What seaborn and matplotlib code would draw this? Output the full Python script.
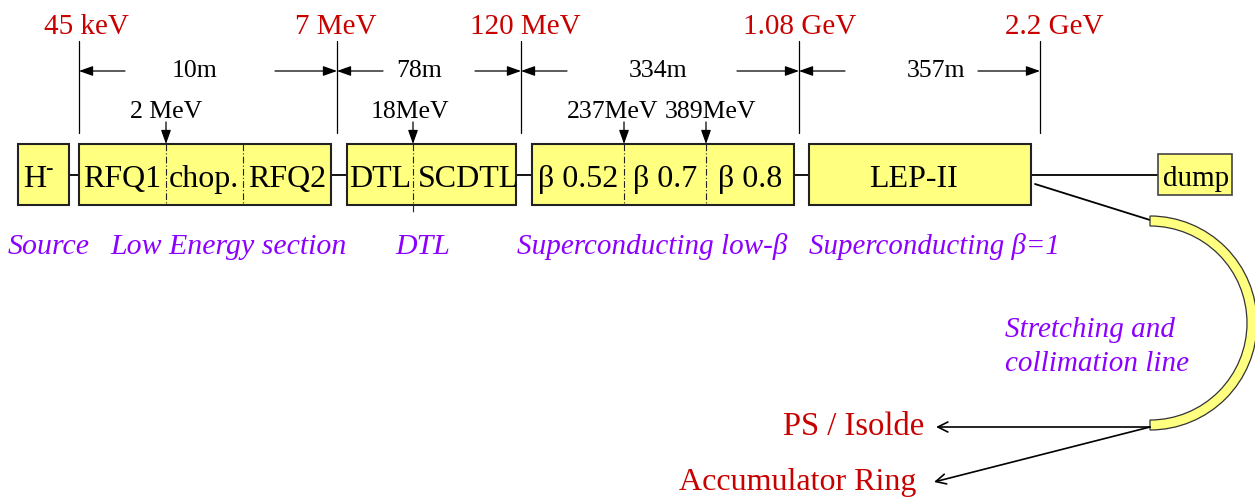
"""
Linac layout sketch: source -> low energy section -> DTL -> SC low-beta -> SC beta=1
"""
import matplotlib
matplotlib.use('Agg')
import matplotlib.pyplot as plt
from matplotlib.patches import Rectangle, Wedge
import seaborn as sns

# ---- data (pixel layout of the original sketch) ----
energy_labels = ['45 keV', '7 MeV', '120 MeV', '1.08 GeV', '2.2 GeV']
energy_x = [79, 337, 521, 799, 1040]
energy_text_x = [86, 336, 525, 800, 1054]

length_labels = ['10m', '78m', '334m', '357m']
length_text_x = [195, 419, 658, 936]
length_arrow_left = [125, 383, 567, 845]
length_arrow_right = [275, 475, 737, 978]

tap_labels = ['2 MeV', '18MeV', '237MeV', '389MeV']
tap_x = [166, 413, 624, 706]
tap_text_x = [166, 410, 613, 710]

# box extents (x0, x1)
box_x0 = [18, 79, 347, 532, 809]
box_x1 = [69, 331, 516, 794, 1031]
box_dividers = [[], [166, 243], [413], [624, 706], []]

cell_labels = ['H', 'RFQ1', 'chop.', 'RFQ2', 'DTL', 'SCDTL',
               'β 0.52', 'β 0.7', 'β 0.8', 'LEP-II']
cell_x = [35, 122, 204, 287, 380, 469, 578, 665, 750, 914]

section_labels = ['Source', 'Low Energy section', 'DTL',
                  'Superconducting low-β', 'Superconducting β=1']
section_x = [8, 110, 395, 517, 809]
section_size = [21.5, 21.5, 21.5, 21, 20.8]

RED = '#c80000'
PURPLE = '#8c00ff'
YELLOW = '#ffff80'
BOX_Y0, BOX_Y1 = 144, 205
BEAM_Y = 175

sns.set_theme(style='white')
plt.rcParams['font.family'] = ['Liberation Serif', 'DejaVu Serif']
plt.rcParams['text.color'] = 'black'

fig = plt.figure(figsize=(12.55, 4.97), dpi=100)
ax = fig.add_axes([0, 0, 1, 1])
ax.set_xlim(0, 1255)
ax.set_ylim(497, 0)
ax.axis('off')

# beam line between boxes and to dump
beam_pts = [69, 79, 331, 347, 516, 532, 794, 809, 1031, 1158]
for a, b in zip(beam_pts[0::2], beam_pts[1::2]):
    ax.plot([a, b], [BEAM_Y, BEAM_Y], color='black', lw=1.3, zorder=1)

# boxes
for x0, x1, divs in zip(box_x0, box_x1, box_dividers):
    ax.add_patch(Rectangle((x0, BOX_Y0), x1 - x0, BOX_Y1 - BOX_Y0,
                           facecolor=YELLOW, edgecolor='#222222', lw=1.5, zorder=2))
    for d in divs:
        y_end = 212 if d == 413 else BOX_Y1
        ax.plot([d, d], [BOX_Y0, y_end], color='#222222', lw=0.8,
                ls=(0, (6, 2, 1, 2)), zorder=3)

# dump
ax.add_patch(Rectangle((1158, 154), 74, 41, facecolor=YELLOW,
                       edgecolor='#444444', lw=1.2, zorder=2))
ax.text(1196, 186, 'dump', fontsize=21, ha='center', va='baseline', zorder=4)

for lab, x in zip(cell_labels, cell_x):
    ax.text(x, 187, lab, fontsize=23, ha='center', va='baseline', zorder=4)
# small superscript dash of H-
ax.text(45, 174, '-', fontsize=16, ha='left', va='baseline', zorder=4)

# energy markers
for lab, x, tx in zip(energy_labels, energy_x, energy_text_x):
    ax.text(tx, 34, lab, fontsize=21, color=RED, ha='center', va='baseline')
    ax.plot([x, x], [41, 133], color='black', lw=0.9)

# length dimension arrows
arrow_kw = dict(arrowstyle='-|>,head_length=0.7,head_width=0.25',
                color='black', lw=0.9, shrinkA=0, shrinkB=0)
for i, lab in enumerate(length_labels):
    xa, xb = energy_x[i], energy_x[i + 1]
    ax.annotate('', xy=(xa, 71), xytext=(length_arrow_left[i], 71), arrowprops=arrow_kw)
    ax.annotate('', xy=(xb, 71), xytext=(length_arrow_right[i], 71), arrowprops=arrow_kw)
    ax.text(length_text_x[i], 77, lab, fontsize=18.5, ha='center', va='baseline')

# intermediate energy taps
for lab, x, tx in zip(tap_labels, tap_x, tap_text_x):
    ax.text(tx, 118, lab, fontsize=18.5, ha='center', va='baseline')
    ax.annotate('', xy=(x, BOX_Y0), xytext=(x, 122), arrowprops=arrow_kw)

# section names
for lab, x, fs in zip(section_labels, section_x, section_size):
    ax.text(x, 254, lab, fontsize=fs, color=PURPLE, style='italic',
            ha='left', va='baseline')

# stretching / collimation line
ax.plot([1035, 1150], [184, 220], color='black', lw=1.3)
ax.add_patch(Wedge((1150, 323), 107, -90, 90, width=10, facecolor=YELLOW,
                   edgecolor='#333333', lw=0.9, zorder=2))
ax.text(1005, 337, 'Stretching and', fontsize=21, color=PURPLE, style='italic',
        ha='left', va='baseline')
ax.text(1005, 371, 'collimation line', fontsize=21, color=PURPLE, style='italic',
        ha='left', va='baseline')

# extraction arrows
open_kw = dict(arrowstyle='->,head_length=0.6,head_width=0.3', color='black',
               lw=1.2, shrinkA=0, shrinkB=0)
ax.annotate('', xy=(936, 427), xytext=(1150, 427), arrowprops=open_kw)
ax.annotate('', xy=(934, 482), xytext=(1150, 427), arrowprops=open_kw)
ax.text(924, 435, 'PS / Isolde', fontsize=23.5, color=RED, ha='right', va='baseline')
ax.text(916, 490, 'Accumulator Ring', fontsize=23, color=RED, ha='right', va='baseline')

fig.savefig('out.png', dpi=100, facecolor='white')
